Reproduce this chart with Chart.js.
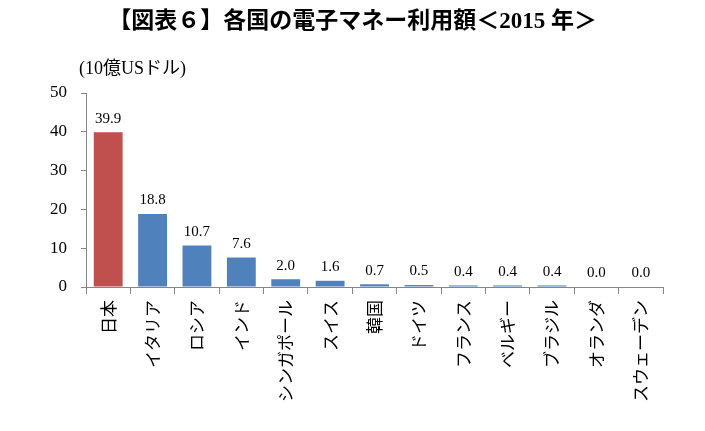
<!DOCTYPE html>
<html>
<head>
<meta charset="utf-8">
<script src="https://cdn.jsdelivr.net/npm/chart.js@4/dist/chart.umd.min.js"></script>
<style>
  html, body { margin: 0; padding: 0; background: #fff; }
  #wrap { width: 705px; height: 431px; }
</style>
</head>
<body>
<div id="wrap"><canvas id="myChart"></canvas></div>
<script>
/* 各国の電子マネー利用額（2015年） */

const countries = ['日本', 'イタリア', 'ロシア', 'インド', 'シンガポール', 'スイス', '韓国', 'ドイツ', 'フランス', 'ベルギー', 'ブラジル', 'オランダ', 'スウェーデン'];
const amounts = [39.9, 18.8, 10.7, 7.6, 2.0, 1.6, 0.7, 0.5, 0.4, 0.4, 0.4, 0.0, 0.0];
const yTicks = [0, 10, 20, 30, 40, 50];

const titleText = '【図表６】各国の電子マネー利用額＜2015 年＞';
const unitText = '(10億USドル)';

const RED = '#C0504D';
const BLUE = '#4F81BD';
const AXIS = '#868686';
const SERIF = "'Liberation Serif', 'Noto Sans CJK JP', serif";
const GOTHIC = "'Noto Sans CJK JP', sans-serif";

// タイトル・単位・数値ラベル
const textPlugin = {
  id: 'textPlugin',
  afterDraw(chart) {
    const c = chart.ctx;
    c.save();
    c.fillStyle = '#000';
    c.textAlign = 'center';
    c.textBaseline = 'middle';
    c.font = 'bold 23px ' + SERIF;
    c.fillText(titleText, chart.width / 2, 22);

    c.textAlign = 'left';
    c.font = '18px ' + SERIF;
    c.fillText(unitText, 79, 69);

    c.textAlign = 'center';
    c.textBaseline = 'bottom';
    c.font = '15px ' + SERIF;
    chart.getDatasetMeta(0).data.forEach((bar, i) => {
      c.fillText(amounts[i].toFixed(1), bar.x, bar.y - 6);
    });
    c.restore();
  }
};

const ctx = document.getElementById('myChart').getContext('2d');
const myChart = new Chart(ctx, {
  type: 'bar',
  data: {
    labels: countries,
    datasets: [{
      data: amounts,
      backgroundColor: countries.map((c, i) => i === 0 ? RED : BLUE),
      barPercentage: 0.65,
      categoryPercentage: 1.0
    }]
  },
  options: {
    responsive: true,
    maintainAspectRatio: false,
    animation: false,
    layout: { padding: { top: 93, right: 42, left: 0, bottom: 0 } },
    plugins: {
      legend: { display: false },
      title: { display: false },
      tooltip: { enabled: false }
    },
    scales: {
      x: {
        offset: true,
        grid: { offset: true, drawOnChartArea: false, drawTicks: true, tickLength: 7, color: AXIS },
        border: { color: AXIS },
        ticks: {
          minRotation: 90,
          maxRotation: 90,
          autoSkip: false,
          padding: 6,
          color: '#000',
          font: { family: GOTHIC, size: 17 }
        },
        afterFit(scale) { scale.height = 144; }
      },
      y: {
        min: 0,
        max: 50,
        afterBuildTicks(scale) { scale.ticks = yTicks.map(v => ({ value: v })); },
        grid: { drawOnChartArea: false, drawTicks: true, tickLength: 5, color: AXIS },
        border: { color: AXIS },
        ticks: {
          padding: 14,
          color: '#000',
          font: { family: SERIF, size: 17 }
        },
        afterFit(scale) { scale.width = 86; }
      }
    }
  },
  plugins: [textPlugin]
});
</script>
</body>
</html>
